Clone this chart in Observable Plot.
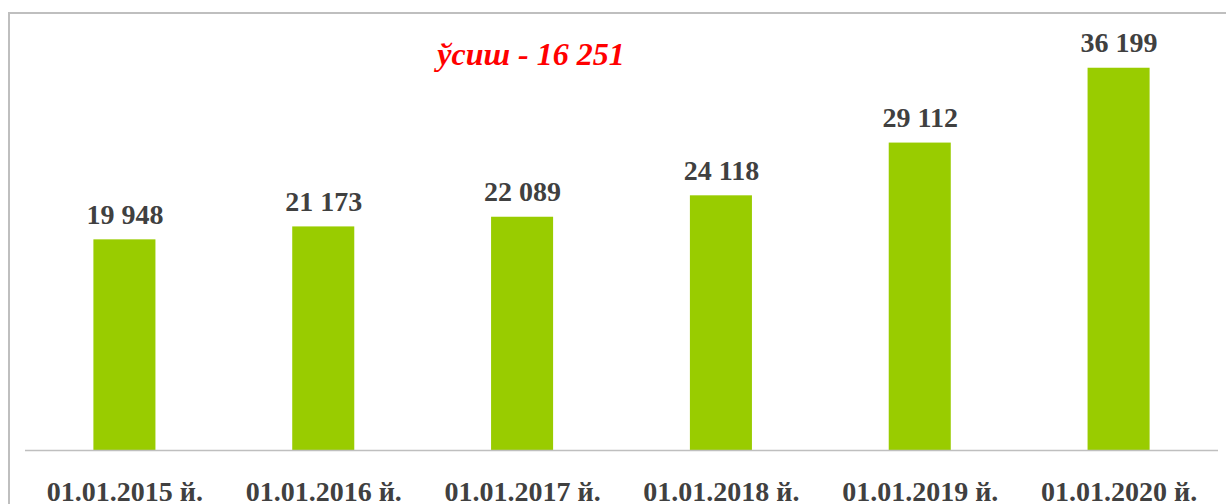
<!DOCTYPE html>
<html>
<head>
<meta charset="utf-8">
<script src="https://cdn.jsdelivr.net/npm/d3@7"></script>
<script src="https://cdn.jsdelivr.net/npm/@observablehq/plot@0.6"></script>
<style>
  html, body { margin: 0; padding: 0; background: #ffffff; }
  #wrap { position: relative; width: 1226px; height: 504px; overflow: hidden; }
  #border { position: absolute; left: 8px; top: 12px; right: -10px; bottom: -10px;
            border-top: 2px solid #bfbfbf; border-left: 2px solid #bfbfbf; }
  #title { position: absolute; left: 531px; top: 38px; transform: translateX(-50%);
           font-family: "Liberation Serif", "Times New Roman", serif; font-size: 32px; line-height: 1;
           font-weight: bold; font-style: italic; color: #ff0000; white-space: nowrap; }
  #chart { position: absolute; left: 0; top: 0; }
</style>
</head>
<body>
<div id="wrap">
  <div id="border"></div>
  <div id="chart"></div>
  <div id="title"></div>
</div>
<script>
const titleText = "ўсиш - 16 251";
const dates = ["01.01.2015 й.", "01.01.2016 й.", "01.01.2017 й.", "01.01.2018 й.", "01.01.2019 й.", "01.01.2020 й."];
const values = [19948, 21173, 22089, 24118, 29112, 36199];

const data = dates.map((d, i) => ({date: d, value: values[i]}));
const fmt = v => d3.format(",")(v).replace(/,/g, " ");

document.getElementById("title").textContent = titleText;

const chart = Plot.plot({
  width: 1226,
  height: 504,
  marginLeft: 25,
  marginRight: 8,
  marginTop: 27.6,
  marginBottom: 54,
  style: {background: "transparent", fontFamily: "'Liberation Serif', 'Times New Roman', serif"},
  x: {domain: dates, paddingInner: 0.688, paddingOuter: 0.344, round: false, label: null},
  y: {domain: [0, 40000], axis: null},
  marks: [
    Plot.barY(data, {x: "date", y: "value", fill: "#99cc00"}),
    Plot.ruleY([0], {stroke: "#bfbfbf", strokeWidth: 1.5}),
    Plot.text(data, {x: "date", y: "value", text: d => fmt(d.value), dy: -16, lineAnchor: "bottom",
      fontSize: 28, fontWeight: "bold", fill: "#404040"}),
    Plot.axisX({tickSize: 0, tickPadding: 31, fontSize: 28, fontWeight: "bold", fill: "#404040", label: null})
  ]
});
document.getElementById("chart").appendChild(chart);
</script>
</body>
</html>
